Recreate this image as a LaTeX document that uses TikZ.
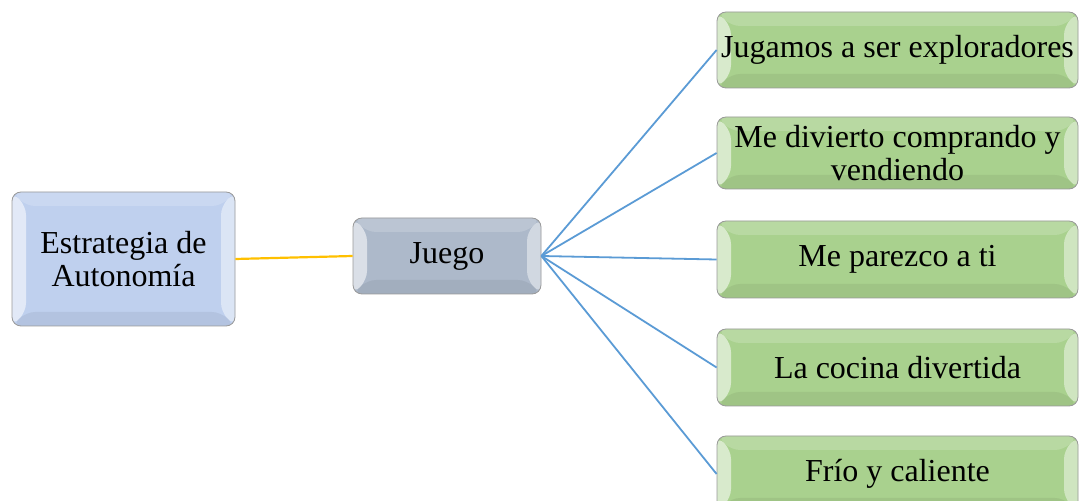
\documentclass[tikz,border=0pt]{standalone}
\usepackage{fontspec}
\setmainfont{Liberation Serif}
\usetikzlibrary{calc}
\definecolor{bluefill}{HTML}{BFD0EE}
\definecolor{grayfill}{HTML}{ADB9CA}
\definecolor{greenfill}{HTML}{A9D18E}
\definecolor{blueline}{HTML}{5B9BD5}
\definecolor{yellowline}{HTML}{FFC000}
\tikzset{
  bevel/.style={path picture={
    \fill[white,opacity=.55] (path picture bounding box.south west) -- (path picture bounding box.north west)
      -- ($(path picture bounding box.north west)+(14,-14)$) -- ($(path picture bounding box.south west)+(14,14)$) -- cycle;
    \fill[white,opacity=.45] (path picture bounding box.south east) -- (path picture bounding box.north east)
      -- ($(path picture bounding box.north east)+(-14,-14)$) -- ($(path picture bounding box.south east)+(-14,14)$) -- cycle;
    \fill[white,opacity=.18] (path picture bounding box.north west) -- (path picture bounding box.north east)
      -- ($(path picture bounding box.north east)+(-14,-14)$) -- ($(path picture bounding box.north west)+(14,-14)$) -- cycle;
    \fill[black,opacity=.06] (path picture bounding box.south west) -- (path picture bounding box.south east)
      -- ($(path picture bounding box.south east)+(-14,14)$) -- ($(path picture bounding box.south west)+(14,14)$) -- cycle;
  }},
  boxbase/.style={bevel, rounded corners=9pt, draw=black!40, line width=0.8pt, inner sep=0pt,
    align=center, font=\fontsize{32}{32.5}\selectfont},
  mainbox/.style={boxbase, fill=bluefill, minimum width=223, minimum height=134},
  midbox/.style={boxbase, fill=grayfill, minimum width=188, minimum height=76},
  leafbox/.style={boxbase, fill=greenfill, minimum width=361, minimum height=76},
  yl/.style={draw=yellowline, line width=2.2pt},
  bl/.style={draw=blueline, line width=1.8pt}
}
\begin{document}
\begin{tikzpicture}[x=1pt,y=1pt]
\useasboundingbox (0,0) rectangle (1080,501);
\begin{scope}
\clip (0,0) rectangle (1080,501);
\node[mainbox] (est) at (123.5,242) {Estrategia de\\Autonomía};
\node[midbox] (jue) at (447,245) {Juego};
\node[leafbox] (l1) at (897.5,451) {Jugamos a ser exploradores};
\node[leafbox, minimum height=72] (l2) at (897.5,348) {Me divierto comprando y\\vendiendo};
\node[leafbox, minimum height=77] (l3) at (897.5,241.5) {Me parezco a ti};
\node[leafbox, minimum height=77] (l4) at (897.5,133.5) {La cocina divertida};
\node[leafbox, minimum height=76] (l5) at (897.5,27) {Frío y caliente};
\draw[yl] (est.east) -- (jue.west);
\foreach \n in {l1,l2,l3,l4,l5} \draw[bl] (jue.east) -- (\n.west);
\end{scope}
\end{tikzpicture}
\end{document}
